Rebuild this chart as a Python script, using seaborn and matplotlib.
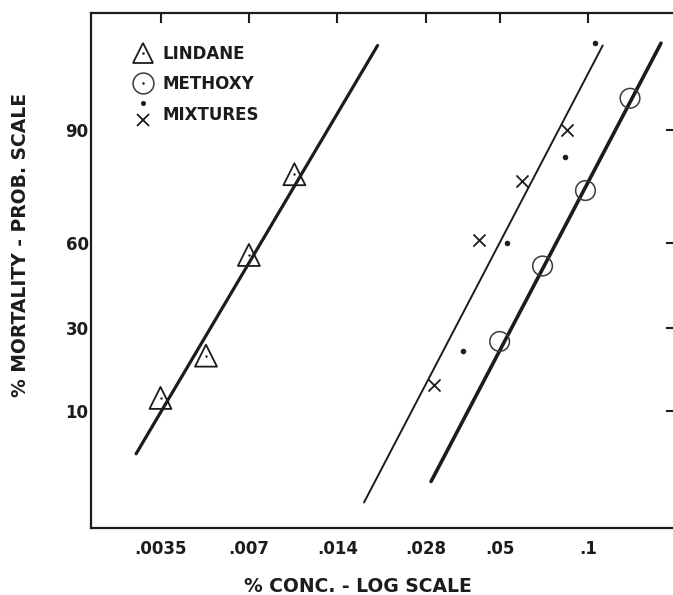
import numpy as np
import pandas as pd
import matplotlib
matplotlib.use("Agg")
import matplotlib.pyplot as plt
import seaborn as sns
from statistics import NormalDist
from matplotlib.markers import MarkerStyle
from matplotlib.transforms import Affine2D
from matplotlib.lines import Line2D
from matplotlib.ticker import NullLocator, FixedLocator, FixedFormatter

# ---------------- data ----------------
lindane_conc = [0.0035, 0.0050, 0.0070, 0.0100]
lindane_mort = [12.2, 21.8, 55.6, 81.0]

methoxy_conc = [0.050, 0.070, 0.098, 0.139]
methoxy_mort = [25.8, 51.6, 76.7, 94.2]

mix_x_conc = [0.0299, 0.0426, 0.0594, 0.0848]
mix_x_mort = [14.8, 61.0, 79.4, 90.0]

mix_dot_conc = [0.0374, 0.0531, 0.0835, 0.1056]
mix_dot_mort = [23.1, 59.8, 85.0, 98.1]

lindane_line_conc = [0.00289, 0.0192]
lindane_line_mort = [4.69, 98.0]
mix_line_conc = [0.01726, 0.1122]
mix_line_mort = [1.70, 98.0]
methoxy_line_conc = [0.0292, 0.1772]
methoxy_line_mort = [2.69, 98.1]

x_ticks = [0.0035, 0.007, 0.014, 0.028, 0.05, 0.1]
x_tick_labels = [".0035", ".007", ".014", ".028", ".05", ".1"]
y_ticks = [10, 30, 60, 90]
y_tick_labels = ["10", "30", "60", "90"]

legend_labels = ["LINDANE", "METHOXY", "MIXTURES"]
x_title = "% CONC. - LOG SCALE"
y_title = "% MORTALITY - PROB. SCALE"

# ---------------- style ----------------
sns.set_style("white")
plt.rcParams["font.family"] = ["DejaVu Sans"]
INK = "#1c1c1c"

_nd = NormalDist()
_ppf = np.vectorize(_nd.inv_cdf, otypes=[float])
_cdf = np.vectorize(_nd.cdf, otypes=[float])


def probit_fwd(p):
    p = np.clip(np.asarray(p, dtype=float) / 100.0, 1e-9, 1 - 1e-9)
    return _ppf(p)


def probit_inv(z):
    return _cdf(np.asarray(z, dtype=float)) * 100.0


fig = plt.figure(figsize=(6.73, 5.95), dpi=100, facecolor="white")
ax = fig.add_axes([0.1348, 0.1118, 0.8703, 0.8669])
ax.set_facecolor("white")

# fitted lines
sns.lineplot(x=lindane_line_conc, y=lindane_line_mort, ax=ax, color=INK,
             linewidth=2.3, estimator=None, sort=False)
sns.lineplot(x=mix_line_conc, y=mix_line_mort, ax=ax, color=INK,
             linewidth=1.4, estimator=None, sort=False)
sns.lineplot(x=methoxy_line_conc, y=methoxy_line_mort, ax=ax, color=INK,
             linewidth=2.6, estimator=None, sort=False)

# lindane triangles with centre dots
sns.scatterplot(x=lindane_conc, y=lindane_mort, ax=ax, marker="^", s=250,
                facecolors="none", edgecolor=INK, linewidth=1.3, zorder=4)
sns.scatterplot(x=lindane_conc, y=lindane_mort, ax=ax, marker="o", s=3,
                color=INK, linewidth=0, zorder=5)

# methoxy circles
sns.scatterplot(x=methoxy_conc, y=methoxy_mort, ax=ax, marker="o", s=200,
                facecolors="none", edgecolor="#3a3a3a", linewidth=1.1, zorder=4)

# mixtures: crosses and dots
sns.scatterplot(x=mix_x_conc, y=mix_x_mort, ax=ax, marker="x", s=75,
                color=INK, linewidth=1.3, zorder=4)
sns.scatterplot(x=mix_dot_conc, y=mix_dot_mort, ax=ax, marker="o", s=16,
                color=INK, linewidth=0, zorder=4)

# scales
ax.set_xscale("log")
ax.set_yscale("function", functions=(probit_fwd, probit_inv))
ax.set_xlim(0.002025, 0.2)
ax.set_ylim(0.92, 99.07)

ax.xaxis.set_major_locator(FixedLocator(x_ticks))
ax.xaxis.set_major_formatter(FixedFormatter(x_tick_labels))
ax.xaxis.set_minor_locator(NullLocator())
ax.yaxis.set_major_locator(FixedLocator(y_ticks))
ax.yaxis.set_major_formatter(FixedFormatter(y_tick_labels))
ax.yaxis.set_minor_locator(NullLocator())

ax.tick_params(which="both", direction="in", length=7.5, width=1.5,
               top=True, right=True, colors=INK)
ax.tick_params(axis="x", labelsize=12, pad=8)
ax.tick_params(axis="y", labelsize=12, pad=1.5)
for lab in ax.get_xticklabels() + ax.get_yticklabels():
    lab.set_fontweight("bold")
    lab.set_color(INK)

for sp in ax.spines.values():
    sp.set_linewidth(1.6)
    sp.set_color(INK)
    sp.set_visible(True)

# axis titles
ax.set_xlabel(x_title, fontsize=13.5, fontweight="bold", color=INK)
ax.xaxis.set_label_coords(0.4555, -0.1128)
ax.xaxis.label.set_verticalalignment("center")
ax.set_ylabel(y_title, fontsize=13.5, fontweight="bold", color=INK)
ax.yaxis.set_label_coords(-0.1207, 0.5496)
ax.yaxis.label.set_verticalalignment("center")

# legend
dot_up = MarkerStyle("o", transform=Affine2D().translate(0, 2.2))
x_down = MarkerStyle("x", transform=Affine2D().translate(0, -0.5))
h_lindane = (Line2D([], [], ls="", marker="^", ms=15, mfc="none", mec=INK, mew=1.3),
             Line2D([], [], ls="", marker="o", ms=1.8, mfc=INK, mec=INK, mew=0))
h_methoxy = (Line2D([], [], ls="", marker="o", ms=15, mfc="none", mec="#3a3a3a", mew=1.1),
             Line2D([], [], ls="", marker="o", ms=1.8, mfc=INK, mec=INK, mew=0))
h_mix = (Line2D([], [], ls="", marker=dot_up, ms=3.6, mfc=INK, mec=INK, mew=0),
         Line2D([], [], ls="", marker=x_down, ms=8.5, color=INK, mew=1.3))
leg = ax.legend([h_lindane, h_methoxy, h_mix], legend_labels,
                loc="upper left", bbox_to_anchor=(0.0717, 0.9378),
                frameon=False, numpoints=1, handlelength=1.2,
                handletextpad=0.6, labelspacing=0.75, borderpad=0,
                borderaxespad=0,
                prop={"size": 12, "weight": "bold"})
for t in leg.get_texts():
    t.set_color(INK)

fig.savefig("out.png", dpi=100, facecolor="white")
